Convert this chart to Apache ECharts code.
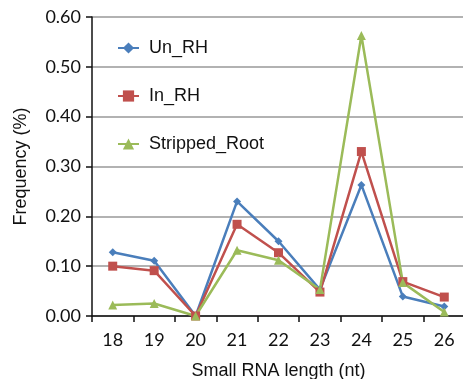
<!DOCTYPE html>
<html>
<head>
<meta charset="utf-8">
<script src="https://cdn.jsdelivr.net/npm/echarts@6/dist/echarts.min.js"></script>
<style>
  html, body { margin: 0; padding: 0; background: #fff; }
  #main { width: 463px; height: 379px; }
</style>
</head>
<body>
<div id="main"></div>
<script>
var lengths = ['18', '19', '20', '21', '22', '23', '24', '25', '26'];
var unRH = [0.128, 0.111, 0.0, 0.230, 0.150, 0.053, 0.263, 0.039, 0.019];
var inRH = [0.100, 0.091, 0.0, 0.184, 0.127, 0.048, 0.330, 0.069, 0.038];
var strippedRoot = [0.022, 0.025, 0.0, 0.132, 0.112, 0.053, 0.563, 0.067, 0.008];
var yTicks = ['0.00', '0.10', '0.20', '0.30', '0.40', '0.50', '0.60'];

var chart = echarts.init(document.getElementById('main'));

function mkSeries(name, data, color, symbol, size) {
    return {
        name: name,
        type: 'line',
        data: data,
        symbol: symbol,
        symbolSize: size,
        showAllSymbol: true,
        lineStyle: { color: color, width: 2.5 },
        itemStyle: { color: color },
        emphasis: { disabled: true }
    };
}

chart.setOption({
    animation: false,
    grid: { left: 92, top: 17, width: 373, height: 299, containLabel: false, outerBoundsMode: 'none' },
    legend: {
        orient: 'vertical',
        left: 112,
        top: 34,
        itemGap: 30,
        itemWidth: 21,
        itemHeight: 14,
        textStyle: { fontFamily: 'Liberation Sans', fontSize: 18, color: '#111', padding: [0, 0, 0, 5] },
        data: ['Un_RH', 'In_RH', 'Stripped_Root']
    },
    xAxis: {
        type: 'category',
        data: lengths,
        boundaryGap: true,
        name: 'Small RNA length (nt)',
        nameLocation: 'middle',
        nameGap: 46,
        nameTextStyle: { fontFamily: 'Liberation Sans', fontSize: 18, color: '#111' },
        axisLine: { lineStyle: { color: '#111', width: 1.5 } },
        axisTick: { show: true, length: 6, alignWithLabel: false, lineStyle: { color: '#111', width: 1.5 } },
        axisLabel: { fontFamily: 'Lato', fontSize: 18, color: '#111', margin: 15 }
    },
    yAxis: {
        type: 'value',
        min: 0,
        max: 0.6,
        interval: 0.1,
        name: 'Frequency (%)',
        nameLocation: 'middle',
        nameGap: 62,
        nameTextStyle: { fontFamily: 'Liberation Sans', fontSize: 18, color: '#111' },
        axisLine: { show: true, lineStyle: { color: '#111', width: 1.5 } },
        axisTick: { show: true, length: 6, lineStyle: { color: '#111', width: 1.5 } },
        axisLabel: {
            fontFamily: 'Lato', fontSize: 18, color: '#111', margin: 11,
            formatter: function (v) { return yTicks[Math.round(v * 10)]; }
        },
        splitLine: { lineStyle: { color: '#999', width: 1.5 } }
    },
    series: [
        mkSeries('Un_RH', unRH, '#4a7ebb', 'diamond', 8),
        mkSeries('In_RH', inRH, '#c0504d', 'rect', 9),
        mkSeries('Stripped_Root', strippedRoot, '#9bbb59', 'triangle', 9)
    ]
});
</script>
</body>
</html>
